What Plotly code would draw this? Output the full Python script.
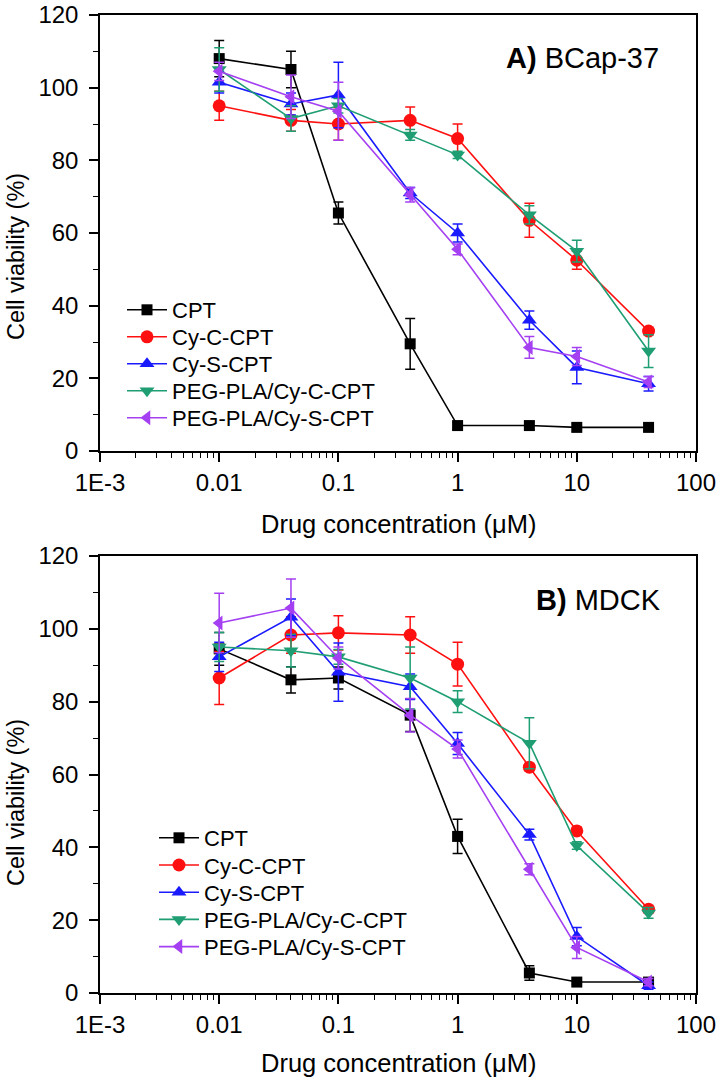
import plotly.graph_objects as go

# ---------------- data ----------------
conc = [0.01, 0.04, 0.1, 0.4, 1, 4, 10, 40]
series_names = ["CPT", "Cy-C-CPT", "Cy-S-CPT", "PEG-PLA/Cy-C-CPT", "PEG-PLA/Cy-S-CPT"]

# Panel A: BCap-37
cpt_a = [108, 105, 65.5, 29.5, 7, 7, 6.5, 6.5]
cpt_a_err = [5, 5, 3, 7, 1, 1, 1, 1]
cyc_a = [95, 91, 90, 91, 86, 63.5, 52.5, 33]
cyc_a_err = [4, 3, 4.5, 3.7, 4, 4.7, 2.5, 1]
cys_a = [101.5, 95.5, 98, 71, 60, 36, 23, 18.5]
cys_a_err = [3, 3, 9, 1.5, 2.5, 2.5, 4.5, 2]
pegc_a = [105, 91.5, 95, 87, 81.5, 65, 55, 27.5]
pegc_a_err = [6, 3.5, 2, 1.5, 1, 2.5, 3, 4.5]
pegs_a = [104.5, 97.5, 93.5, 70.5, 55.5, 28.5, 26, 19]
pegs_a_err = [2.5, 6, 8, 2, 1.5, 3, 2.5, 1.5]

# Panel B: MDCK
cpt_b = [94.5, 86, 86.5, 76.3, 43, 5.5, 3, 3]
cpt_b_err = [4.5, 3.6, 3, 4.5, 4.7, 2, 0.6, 0.6]
cyc_b = [86.5, 98.3, 98.9, 98.3, 90.3, 62, 44.5, 23]
cyc_b_err = [7.3, 5, 4.7, 5, 6, 1, 1, 1]
cys_b = [92.3, 103.2, 88.1, 84.1, 68.5, 43.5, 15.5, 2]
cys_b_err = [4, 5, 8, 3.5, 3, 1.5, 2.5, 1]
pegc_b = [95, 94, 92.3, 86.5, 80, 68.6, 40.5, 22]
pegc_b_err = [4, 4.5, 2, 8.5, 3, 7, 1, 1.5]
pegs_b = [101.6, 105.7, 92, 76.3, 67, 34, 12.5, 3]
pegs_b_err = [8.2, 8, 3, 4.6, 2.5, 1.5, 3, 1]

x_tickvals = [0.001, 0.01, 0.1, 1, 10, 100]
x_ticktext = ["1E-3", "0.01", "0.1", "1", "10", "100"]

# ---------------- styles ----------------
colors = ["#000000", "#ff1010", "#1a1aff", "#1e9e72", "#a440f2"]
symbols = ["square", "circle", "triangle-up", "triangle-down", "triangle-left"]
sizes = [11, 13, 13, 13, 13]
FONT = "Arial, 'Liberation Sans', Helvetica, sans-serif"

W, H = 720, 1080


def px(x):
    return x / W


def py(y):
    return 1 - y / H


fig = go.Figure()

panelA = [(cpt_a, cpt_a_err), (cyc_a, cyc_a_err), (cys_a, cys_a_err),
          (pegc_a, pegc_a_err), (pegs_a, pegs_a_err)]
panelB = [(cpt_b, cpt_b_err), (cyc_b, cyc_b_err), (cys_b, cys_b_err),
          (pegc_b, pegc_b_err), (pegs_b, pegs_b_err)]

legend_ids = []
for p, (panel, (xa, ya)) in enumerate([(panelA, ("x", "y")), (panelB, ("x2", "y2"))]):
    for i, (vals, errs) in enumerate(panel):
        n = p * 5 + i + 1
        lid = "legend" if n == 1 else f"legend{n}"
        legend_ids.append(lid)
        fig.add_trace(go.Scatter(
            x=conc, y=vals, name=series_names[i], mode="lines+markers",
            xaxis=xa, yaxis=ya, legend=lid,
            line=dict(color=colors[i], width=1.6),
            marker=dict(symbol=symbols[i], size=sizes[i], color=colors[i]),
            error_y=dict(type="data", array=errs, visible=True,
                         color=colors[i], thickness=1.5, width=5),
            cliponaxis=False,
        ))

xl, xr = 100, 696
topA, botA = 15, 451
topB, botB = 556, 993

minor_x = [m * 10 ** e for e in range(-3, 2) for m in range(2, 10)]


def xaxis_style(anchor):
    return dict(
        type="log", range=[-3, 2], domain=[px(xl), px(xr)], anchor=anchor,
        automargin=False,
        tickmode="array", tickvals=x_tickvals, ticktext=x_ticktext,
        ticks="outside", ticklen=9, tickwidth=1.5, tickcolor="black",
        showline=True, linecolor="black", linewidth=1.5, mirror=True,
        showgrid=False, zeroline=False,
        tickfont=dict(family=FONT, size=24, color="black"),
        minor=dict(tickmode="array", tickvals=minor_x, ticks="outside",
                   ticklen=5, tickwidth=1.2, tickcolor="black", showgrid=False),
    )


def yaxis_style(anchor, top, bot):
    return dict(
        range=[0, 120], domain=[py(bot), py(top)], anchor=anchor,
        automargin=False,
        tickmode="linear", tick0=0, dtick=20,
        ticks="outside", ticklen=9, tickwidth=1.5, tickcolor="black",
        showline=True, linecolor="black", linewidth=1.5, mirror=True,
        showgrid=False, zeroline=False, ticklabelstandoff=6,
        tickfont=dict(family=FONT, size=24, color="black"),
        minor=dict(dtick=10, ticks="outside", ticklen=5, tickwidth=1.2,
                   tickcolor="black", showgrid=False),
    )


legend_common = dict(
    bgcolor="rgba(0,0,0,0)", borderwidth=0, tracegroupgap=0,
    font=dict(family=FONT, size=22, color="black"),
    xanchor="left", yanchor="middle", itemwidth=40,
)

legends = {}
for k, lid in enumerate(legend_ids):
    if k < 5:
        lx, ly = 122, 310 + 27 * k
    else:
        lx, ly = 154, 838 + 27.2 * (k - 5)
    legends[lid] = dict(x=px(lx), y=py(ly), **legend_common)

fig.update_layout(
    width=W, height=H,
    margin=dict(l=0, r=0, t=0, b=0, autoexpand=False),
    paper_bgcolor="white", plot_bgcolor="white",
    showlegend=True,
    xaxis=xaxis_style("y"),
    yaxis=yaxis_style("x", topA, botA),
    xaxis2=xaxis_style("y2"),
    yaxis2=yaxis_style("x2", topB, botB),
    font=dict(family=FONT, color="black"),
    **legends,
)

# axis titles and panel labels
for ycent, xt_y in [(246, 524), (792, 1063)]:
    fig.add_annotation(
        text="Cell viability (%)", xref="paper", yref="paper",
        x=px(16), y=py(ycent + 11), textangle=-90,
        showarrow=False, xanchor="center", yanchor="middle",
        font=dict(family=FONT, size=23.5, color="black"),
    )
    fig.add_annotation(
        text="Drug concentration (\u03bcM)", xref="paper", yref="paper",
        x=px(398), y=py(xt_y),
        showarrow=False, xanchor="center", yanchor="middle",
        font=dict(family=FONT, size=25.5, color="black"),
    )

fig.add_annotation(text="<b>A)</b> BCap-37", xref="paper", yref="paper",
                   x=px(661), y=py(58), xanchor="right", yanchor="middle",
                   showarrow=False, font=dict(family=FONT, size=29, color="black"))
fig.add_annotation(text="<b>B)</b> MDCK", xref="paper", yref="paper",
                   x=px(663), y=py(600), xanchor="right", yanchor="middle",
                   showarrow=False, font=dict(family=FONT, size=29, color="black"))

fig.write_html("out.html",
               config={"displayModeBar": False},
               post_script="document.body.style.margin='0px';")
